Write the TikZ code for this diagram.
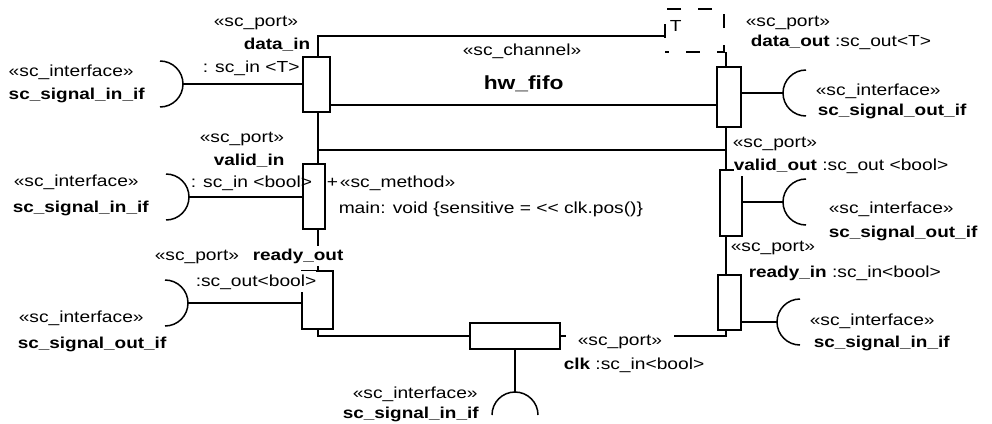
\documentclass[tikz,border=0pt]{standalone}
\usepackage{fontspec}
\setmainfont[FakeStretch=1.2]{Liberation Sans}
\usetikzlibrary{calc}
\newcommand\myrf{\fontsize{16}{19}\selectfont}
\newcommand\mybf{\fontsize{15.8}{19}\selectfont\bfseries}
\newcommand\mybig{\fontsize{19}{22}\selectfont\bfseries}
\begin{document}
\begin{tikzpicture}[x=1pt,y=-1pt,line width=1.5pt,
  port/.style={draw,fill=white,inner sep=0pt,line width=1.5pt},
  lbl/.style={anchor=base west,inner sep=0pt,font=\myrf},
  blbl/.style={anchor=base west,inner sep=0pt,font=\mybf},
  mask/.style={fill=white,inner ysep=3pt}
]
\useasboundingbox (0,0) rectangle (992,423);

% ports
\node[port,minimum width=27,minimum height=55] (pdin) at (316.5,84.5) {};
\node[port,minimum width=22,minimum height=65] (pvin) at (314,196.5) {};
\node[port,minimum width=31,minimum height=58] (prout) at (317.5,300) {};
\node[port,minimum width=24,minimum height=60] (pdout) at (729,97) {};
\node[port,minimum width=22,minimum height=66] (pvout) at (731,203) {};
\node[port,minimum width=23,minimum height=55] (prin) at (729.5,302.5) {};
\node[port,minimum width=90,minimum height=26] (pclk) at (515,336) {};

% channel outline coordinates
\coordinate (tl) at (318,36);
\coordinate (ttop) at (665,36);
\coordinate (tr) at (726,52);
\coordinate (bl) at (318,336);
\coordinate (br) at (726,336);
\coordinate (jl) at (318,150);
\coordinate (jr) at (726,150);
\coordinate (w1) at (330,105);

% channel lines
\draw (ttop) -- (tl) -- (tl |- pdin.north);
\draw (tl |- pdin.south) -- (tl |- pvin.north);
\draw (tl |- pvin.south) -- (tl |- prout.north);
\draw (tl |- prout.south) -- (bl) -- (pclk.west);
\draw (tr) -- (tr |- pdout.north);
\draw (tr |- pdout.south) -- (tr |- pvout.north);
\draw (tr |- pvout.south) -- (tr |- prin.north);
\draw (tr |- prin.south) -- (br) -- (pclk.east);
\draw (jl) -- (jr);
\draw (pdin.east |- w1) -- (pdout.west |- w1);

% template box
\node[draw,fill=white,dash pattern=on 14pt off 17pt,dash phase=10pt,minimum width=59,minimum height=43,inner sep=0pt] (tmpl) at (694.5,30.5) {};
\node[lbl] (tT) at (669,31) {T};

% interfaces
\coordinate (idin) at (183,84);
\coordinate (ivin) at (189,197);
\coordinate (irout) at (188,303);
\coordinate (idout) at (783,93);
\coordinate (ivout) at (783,202);
\coordinate (irin) at (777,322);
\coordinate (iclk) at (515,392);

\draw (idin) -- (idin -| pdin.west);
\draw (ivin) -- (ivin -| pvin.west);
\draw (irout) -- (irout -| prout.west);
\draw (idout) -- (idout -| pdout.east);
\draw (ivout) -- (ivout -| pvout.east);
\draw (irin) -- (irin -| prin.east);
\draw (pclk.south) -- (iclk);

\draw ($(idin)+(-23,-23)$) arc[start angle=-90,end angle=90,radius=23];
\draw ($(ivin)+(-23,-23)$) arc[start angle=-90,end angle=90,radius=23];
\draw ($(irout)+(-23,-23)$) arc[start angle=-90,end angle=90,radius=23];
\draw ($(idout)+(23,-23)$) arc[start angle=-90,end angle=-270,radius=23];
\draw ($(ivout)+(23,-23)$) arc[start angle=-90,end angle=-270,radius=23];
\draw ($(irin)+(23,-23)$) arc[start angle=-90,end angle=-270,radius=23];
\draw ($(iclk)+(-23,23)$) arc[start angle=180,end angle=360,radius=23];

% left labels
\node[lbl] (t1) at (213,26) {«sc\_port»};
\node[blbl] (t2) at (243,49) {data\_in};
\node[lbl] (t3) at (202,72) {: sc\_in <T>};
\node[lbl] (t4) at (8,76) {«sc\_interface»};
\node[blbl] (t5) at (8,99) {sc\_signal\_in\_if};
\node[lbl] (t6) at (199,142) {«sc\_port»};
\node[blbl] (t7) at (213,165) {valid\_in};
\node[lbl] (t8) at (190,187) {: sc\_in <bool>};
\node[lbl] (t9) at (13,186) {«sc\_interface»};
\node[blbl] (t10) at (12,212) {sc\_signal\_in\_if};
\node[lbl] (t11) at (154,260) {«sc\_port»};
\node[blbl,mask] (t12) at (252,260) {ready\_out};
\node[lbl,mask] (t13) at (195,286) {:sc\_out<bool>};
\node[lbl] (t14) at (18,322) {«sc\_interface»};
\node[blbl] (t15) at (17,348) {sc\_signal\_out\_if};

% method
\node[lbl] (t16) at (326,187) {+\hspace{2pt}«sc\_method»};
\node[lbl] (t17) at (338,213) {main: void \{sensitive = <\kern0pt< clk.pos()\}};

% center
\node[lbl] (t18) at (462,55) {«sc\_channel»};
\node[anchor=base west,inner sep=0pt,font=\mybig] (t19) at (483,89) {hw\_fifo};

% right labels
\node[lbl] (t21) at (745,27) {«sc\_port»};
\node[lbl] (t22) at (750,46) {{\mybf data\_out} :sc\_out<T>};
\node[lbl] (t23) at (815,95) {«sc\_interface»};
\node[blbl] (t24) at (817,115) {sc\_signal\_out\_if};
\node[lbl] (t25) at (732,147) {«sc\_port»};
\node[lbl,mask] (t26) at (733,170) {{\mybf valid\_out} :sc\_out <bool>};
\node[lbl] (t23b) at (828,213) {«sc\_interface»};
\node[blbl] (t24b) at (828,237) {sc\_signal\_out\_if};
\node[lbl] (t27) at (730,251) {«sc\_port»};
\node[lbl] (t28) at (748,277) {{\mybf ready\_in} :sc\_in<bool>};
\node[lbl] (t29) at (809,325) {«sc\_interface»};
\node[blbl] (t30) at (813,347) {sc\_signal\_in\_if};

% bottom
\node[lbl,mask,inner xsep=12pt] (t31) at (565,345) {«sc\_port»};
\node[lbl] (t32) at (563,369) {{\mybf clk} :sc\_in<bool>};
\node[lbl] (t33) at (352,398) {«sc\_interface»};
\node[blbl] (t34) at (342,418) {sc\_signal\_in\_if};
\end{tikzpicture}
\end{document}
